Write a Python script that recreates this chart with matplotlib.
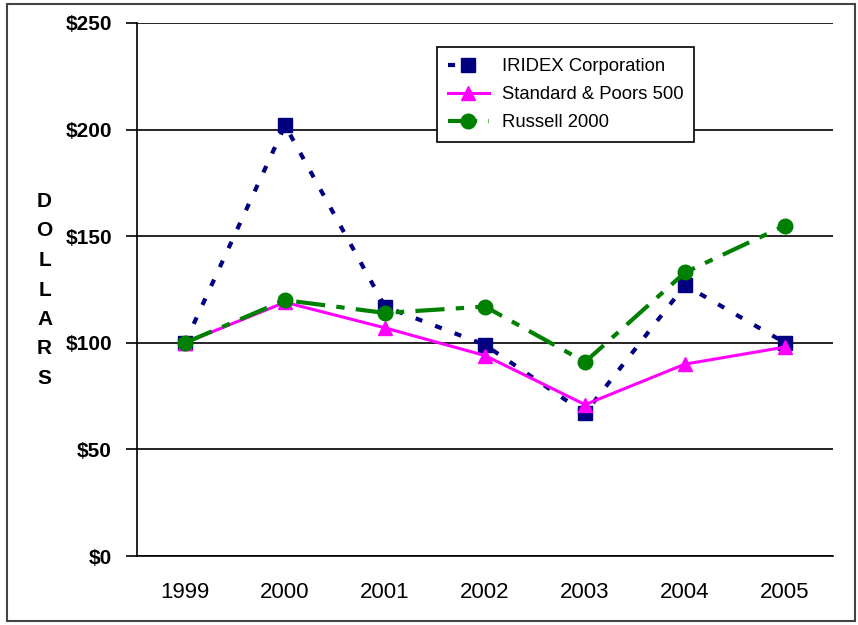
import numpy as np
import matplotlib.pyplot as plt
from matplotlib.patches import Rectangle

plt.rcParams['font.family'] = ['Liberation Sans', 'DejaVu Sans']

years = ['1999', '2000', '2001', '2002', '2003', '2004', '2005']
iridex = [100, 202, 117, 99, 67, 127, 100]
sp500 = [100, 119, 107, 94, 71, 90, 98]
russell = [100, 120, 114, 117, 91, 133, 155]
yticks = [0, 50, 100, 150, 200, 250]

fig = plt.figure(figsize=(8.58, 6.25), dpi=100)
ax = fig.add_axes([0.1597, 0.1104, 0.8112, 0.8528])

x = np.arange(len(years))
ax.plot(x, iridex, color='#000080', linestyle=(0, (1.7, 3.3)), linewidth=3,
        marker='s', markersize=10.5, label='IRIDEX Corporation', zorder=3)
ax.plot(x, sp500, color='#FF00FF', linestyle='-', linewidth=2.2, marker='^',
        markersize=10.5, label='Standard & Poors 500', zorder=4)
ax.plot(x, russell, color='#008000', linestyle=(0, (7, 2.7, 2, 2.7)), linewidth=3,
        marker='o', markersize=10.5, label='Russell 2000', zorder=5)

ax.set_xlim(-0.48, 6.48)
ax.set_ylim(0, 250)
ax.set_yticks(yticks)
ax.set_yticklabels(['$%d' % v for v in yticks], fontsize=15, fontweight='bold')
ax.set_xticks(x)
ax.set_xticklabels(years, fontsize=16)
ax.tick_params(axis='x', length=0, pad=19)
ax.tick_params(axis='y', direction='out', length=8, width=1.2, pad=10)
ax.grid(axis='y', color='black', linewidth=1.2)
ax.set_axisbelow(True)
for s in ['top', 'right']:
    ax.spines[s].set_visible(False)
for s in ['left', 'bottom']:
    ax.spines[s].set_linewidth(1.2)

fig.text(0.052, 0.536, '\n'.join('DOLLARS'), fontsize=15, fontweight='bold',
         ha='center', va='center', linespacing=1.7)

leg = ax.legend(loc='upper left', bbox_to_anchor=(0.431, 0.955), borderaxespad=0,
                fontsize=13.3, frameon=True, fancybox=False, framealpha=1,
                edgecolor='black', handlelength=2.2, handletextpad=0.7,
                borderpad=0.6, labelspacing=0.6)
leg.get_frame().set_linewidth(1.2)

fig.patches.append(Rectangle((0.008, 0.006), 0.988, 0.987, transform=fig.transFigure,
                             fill=False, edgecolor='#444444', linewidth=1.5))

fig.savefig('out.png', dpi=100)
